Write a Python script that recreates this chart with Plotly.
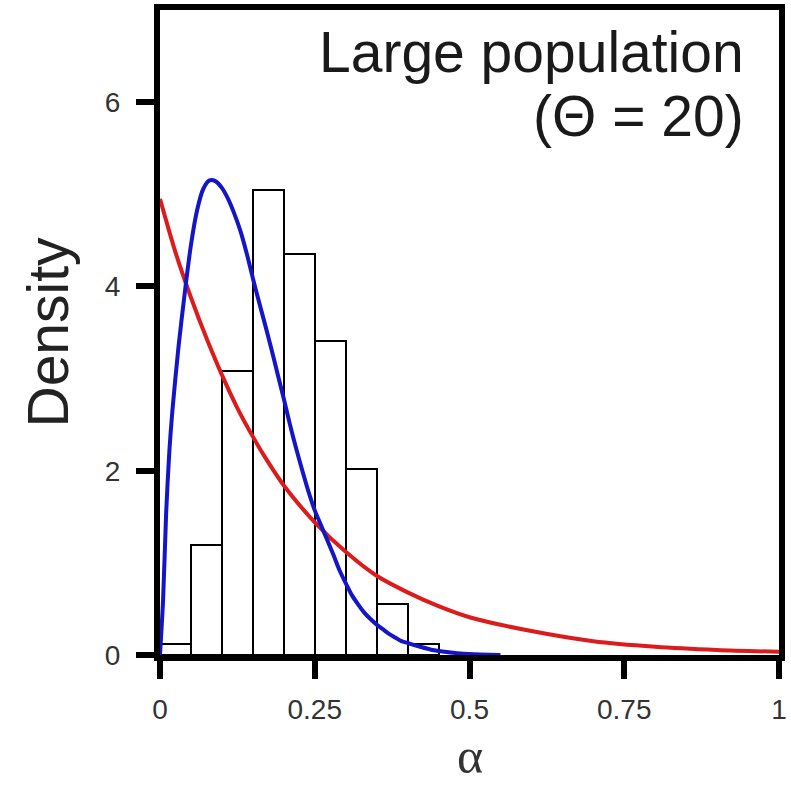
import plotly.graph_objects as go

# Histogram of sampled alpha values (bin centres, width 0.05)
bin_centres = [0.025, 0.075, 0.125, 0.175, 0.225, 0.275, 0.325, 0.375, 0.425]
bin_density = [0.12, 1.19, 3.08, 5.05, 4.35, 3.41, 2.02, 0.55, 0.12]

# Red density curve
red_alpha = [0, 0.025, 0.05, 0.075, 0.1, 0.125, 0.15, 0.175, 0.2, 0.25, 0.3,
             0.35, 0.4, 0.45, 0.5, 0.6, 0.7, 0.8, 0.9, 1.0]
red_density = [4.95, 4.37, 3.88, 3.44, 3.04, 2.68, 2.37, 2.09, 1.84, 1.44,
               1.12, 0.86, 0.68, 0.53, 0.41, 0.26, 0.15, 0.09, 0.055, 0.035]

# Blue density curve
blue_alpha = [0, 0.005, 0.01, 0.015, 0.02, 0.03, 0.04, 0.05, 0.06, 0.07,
              0.08, 0.09, 0.1, 0.11, 0.12, 0.13, 0.14, 0.15, 0.16, 0.17,
              0.18, 0.19, 0.2, 0.21, 0.22, 0.23, 0.24, 0.25, 0.26, 0.27,
              0.28, 0.29, 0.3, 0.31, 0.32, 0.33, 0.34, 0.35, 0.36, 0.37,
              0.38, 0.39, 0.4, 0.42, 0.44, 0.46, 0.48, 0.5, 0.55]
blue_density = [0, 0.6, 1.55, 2.2, 2.65, 3.35, 3.93, 4.45, 4.83, 5.06,
                5.15, 5.14, 5.07, 4.95, 4.79, 4.6, 4.36, 4.09, 3.83, 3.58,
                3.32, 3.05, 2.78, 2.5, 2.24, 2.0, 1.77, 1.57, 1.41, 1.25,
                1.09, 0.92, 0.78, 0.65, 0.55, 0.46, 0.39, 0.33, 0.28, 0.23,
                0.19, 0.15, 0.13, 0.09, 0.055, 0.035, 0.02, 0.01, 0.0]

x_ticks = [0, 0.25, 0.5, 0.75, 1]
x_tick_text = ["0", "0.25", "0.5", "0.75", "1"]
y_ticks = [0, 2, 4, 6]

fig = go.Figure()

fig.add_trace(go.Bar(
    x=bin_centres, y=bin_density, width=0.05,
    marker=dict(color="white", line=dict(color="black", width=2)),
    hoverinfo="skip",
))
fig.add_trace(go.Scatter(
    x=red_alpha, y=red_density, mode="lines",
    line=dict(color="#dc1c1c", width=4, shape="spline", smoothing=0.8),
    hoverinfo="skip",
))
fig.add_trace(go.Scatter(
    x=blue_alpha, y=blue_density, mode="lines",
    line=dict(color="#1414c8", width=4, shape="spline", smoothing=0.8),
    hoverinfo="skip",
))

tick_font = dict(family="Liberation Sans, Arial, sans-serif", size=28, color="#333333")
label_font = dict(family="Liberation Sans, Arial, sans-serif", size=57, color="#1a1a1a")

fig.update_layout(
    width=791, height=785,
    margin=dict(l=160, r=12, t=10, b=130),
    paper_bgcolor="white", plot_bgcolor="white",
    showlegend=False, bargap=0,
    xaxis=dict(
        range=[0, 1], tickvals=x_ticks, ticktext=x_tick_text,
        showgrid=False, zeroline=False, automargin=False,
        showline=True, linecolor="black", linewidth=6, mirror=True,
        ticks="outside", ticklen=18, tickwidth=6, tickcolor="black",
        tickfont=tick_font, ticklabelstandoff=6,
    ),
    yaxis=dict(
        range=[0, 7], tickvals=y_ticks,
        showgrid=False, zeroline=False, automargin=False,
        showline=True, linecolor="black", linewidth=6, mirror=True,
        ticks="outside", ticklen=18, tickwidth=6, tickcolor="black",
        tickfont=tick_font, ticklabelstandoff=10,
        title=dict(text="Density", font=dict(family="Liberation Sans, Arial, sans-serif",
                                              size=57, color="#222222"), standoff=20),
    ),
    annotations=[
        # x-axis label
        dict(text="α", xref="paper", yref="paper",
             x=0.5, y=-0.156, xanchor="center", yanchor="middle", showarrow=False,
             borderpad=0,
             font=dict(family="Liberation Serif, Times New Roman, serif",
                       size=50, color="#333333")),
        dict(text="Large population", xref="paper", yref="paper",
             x=0.947, y=0.987, xanchor="right", yanchor="top", showarrow=False,
             font=label_font),
        dict(text="(Θ = 20)", xref="paper", yref="paper",
             x=0.947, y=0.888, xanchor="right", yanchor="top", showarrow=False,
             font=label_font),
    ],
)

fig.write_html("out.html")
